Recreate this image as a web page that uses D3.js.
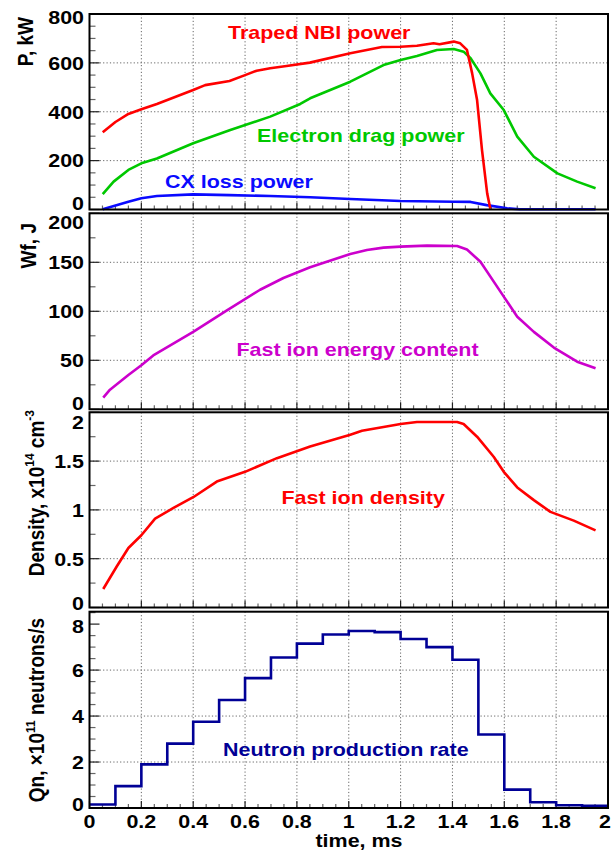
<!DOCTYPE html>
<html><head><meta charset="utf-8">
<script src="https://cdn.jsdelivr.net/npm/d3@7"></script>
<style>body{margin:0;background:#fff}svg{display:block}</style>
</head><body><div id="chart"></div>
<script>
// ---------- DATA ----------
const xTicks = [0, 0.2, 0.4, 0.6, 0.8, 1, 1.2, 1.4, 1.6, 1.8, 2];
const xTickLabels = ["0","0.2","0.4","0.6","0.8","1","1.2","1.4","1.6","1.8","2"];

const nbiT = [0.051,0.10,0.15,0.20,0.26,0.40,0.446,0.54,0.60,0.645,0.697,0.76,0.85,1.006,1.128,1.20,1.263,1.327,1.35,1.405,1.43,1.456,1.476,1.495,1.514,1.534,1.546];
const nbiP = [316,358,391,410,432,489,509,526,550,568,578,587,601,639,665,666,670,680,676,687,680,653,557,448,243,66,3];

const dragT = [0.051,0.093,0.15,0.20,0.26,0.40,0.543,0.697,0.813,0.851,1.006,1.134,1.20,1.263,1.34,1.405,1.443,1.47,1.508,1.546,1.598,1.65,1.714,1.805,1.881,1.952];
const dragP = [63,114,162,189,209,271,325,380,432,455,523,591,612,628,653,657,646,619,557,475,407,298,216,148,114,87];

const cxT = [0.051,0.15,0.20,0.26,0.40,0.54,0.697,0.851,1.006,1.20,1.405,1.47,1.532,1.611,1.66,1.952];
const cxP = [1,32,46,55,62,59,55,50,43,35,32,31,18,5,1,1];

const wfT = [0.053,0.079,0.15,0.20,0.246,0.40,0.53,0.658,0.748,0.851,1.006,1.07,1.134,1.20,1.302,1.418,1.456,1.508,1.598,1.65,1.714,1.791,1.881,1.952];
const wfJ = [12,20,35,45,55,79,101,122,134,145,158.5,162.6,165,166,167,166.6,163,150.6,115,94.5,79,63,48.6,41.8];

const denT = [0.053,0.105,0.15,0.20,0.253,0.324,0.40,0.491,0.60,0.723,0.851,1.006,1.051,1.134,1.20,1.263,1.418,1.443,1.495,1.559,1.598,1.65,1.714,1.778,1.868,1.952];
const denN = [0.19,0.42,0.61,0.74,0.91,1.02,1.13,1.29,1.39,1.53,1.65,1.77,1.81,1.85,1.88,1.90,1.90,1.88,1.75,1.545,1.39,1.23,1.10,0.98,0.89,0.79];

const qnBinEdges = [0,0.1,0.2,0.3,0.4,0.5,0.6,0.7,0.8,0.9,1.0,1.1,1.2,1.3,1.4,1.5,1.6,1.7,1.8,1.9,2.0];
const qnValues = [0.15,0.95,1.9,2.8,3.75,4.7,5.65,6.55,7.15,7.55,7.7,7.65,7.35,7.0,6.45,3.2,0.8,0.25,0.12,0.1];

// ---------- LAYOUT ----------
const W = 613, H = 855;
const X0 = 89.5, X1 = 608;
const SX = 1.13; // horizontal text stretch
const FONT = "'Liberation Sans', Arial, sans-serif";

const svg = d3.select("#chart").append("svg").attr("width", W).attr("height", H);
const x = d3.scaleLinear().domain([0, 2]).range([X0, X1]);

function txt(g, s, px, py, opts = {}) {
  const t = g.append("text")
    .attr("transform", `translate(${px},${py}) scale(${SX},1)` + (opts.rotate ? ` rotate(${opts.rotate})` : ""))
    .attr("font-family", FONT).attr("font-weight", "bold")
    .attr("font-size", opts.size || 19)
    .attr("fill", opts.color || "#000")
    .attr("text-anchor", opts.anchor || "start");
  if (opts.dy) t.attr("dy", opts.dy);
  if (Array.isArray(s)) {
    s.forEach(part => {
      const ts = t.append("tspan").text(part.t);
      if (part.sup) ts.attr("font-size", 12).attr("dy", part.dy);
      else if (part.dy) ts.attr("dy", part.dy);
    });
  } else t.text(s);
  return t;
}

const panels = [
  { top: 14, bot: 209.5, dom: [0, 800], major: [0,200,400,600,800], minorStep: 50,
    labels: ["0","200","400","600","800"], labShift: [-6.5, 0, 0, 0, 2.7],
    title: "P, kW", titleX: 33, titleEnd: 17 },
  { top: 213.3, bot: 409.3, dom: [0, 200], major: [0,50,100,150,200], minorStep: 25,
    labels: ["0","50","100","150","200"], labShift: [-6, 0, 0, 0, 8.4],
    title: "Wf, J", titleX: 36, titleEnd: 223 },
  { top: 412.3, bot: 607.5, dom: [0, 2], major: [0,0.5,1,1.5,2], minorStep: 0.25,
    labels: ["0","0.5","1","1.5","2"], labShift: [-4.5, 0, 0, 0, 9.8],
    title: [{t:"Density, x10"},{t:"14",sup:true,dy:-8},{t:" cm",dy:8},{t:"-3",sup:true,dy:-8}], titleX: 43.5, titleEnd: 410 },
  { top: 611.7, bot: 808, dom: [0, 8.54], major: [0,2,4,6,8], minorStep: 0.5,
    labels: ["0","2","4","6","8"], labShift: [-4, 0, 0, 0, 1.7],
    title: [{t:"Qn,  \u00d710"},{t:"11",sup:true,dy:-8},{t:" neutrons/s",dy:8}], titleX: 44, titleEnd: 618 }
];

panels.forEach(p => {
  p.y = d3.scaleLinear().domain(p.dom).range([p.bot, p.top]);
  const g = svg.append("g");
  p.g = g;
  // grid
  const grid = g.append("g").attr("stroke", "#666").attr("stroke-width", 1).attr("stroke-dasharray", "1.2,2.2");
  xTicks.slice(1, -1).forEach(v => grid.append("line").attr("x1", x(v)).attr("x2", x(v)).attr("y1", p.top).attr("y2", p.bot));
  p.major.slice(1, -1).forEach(v => grid.append("line").attr("x1", X0).attr("x2", X1).attr("y1", p.y(v)).attr("y2", p.y(v)));
  // x ticks (bottom)
  const tk = g.append("g");
  d3.range(0, 2.0001, 0.05).forEach(v => {
    const isMajor = Math.abs(v / 0.2 - Math.round(v / 0.2)) < 1e-6;
    tk.append("line").attr("x1", x(v)).attr("x2", x(v))
      .attr("y1", p.bot).attr("y2", p.bot - (isMajor ? 7 : 4))
      .attr("stroke", isMajor ? "#222" : "#666").attr("stroke-width", 1.2);
  });
  // y ticks (left)
  const n = Math.round((p.dom[1] - p.dom[0]) / p.minorStep);
  for (let i = 0; i <= n; i++) {
    const v = p.dom[0] + i * p.minorStep;
    if (v > p.dom[1]) break;
    const isMajor = p.major.some(m => Math.abs(m - v) < 1e-6);
    tk.append("line").attr("x1", X0).attr("x2", X0 + (isMajor ? 10 : 6))
      .attr("y1", p.y(v)).attr("y2", p.y(v))
      .attr("stroke", isMajor ? "#222" : "#666").attr("stroke-width", 1.2);
  }
  // y tick labels
  p.major.forEach((v, i) => {
    txt(g, p.labels[i], 84, p.y(v) + p.labShift[i], { anchor: "end", dy: "0.36em" });
  });
  // y title (rotated)
  txt(g, p.title, p.titleX, p.titleEnd, { anchor: "end", rotate: -90, size: 19 });
});

// ---------- SERIES ----------
function series(p, ts, vs, color) {
  const pts = ts.map((t, i) => [t, vs[i]]);
  p.g.append("path").datum(pts)
    .attr("d", d3.line().x(d => x(d[0])).y(d => p.y(d[1])))
    .attr("fill", "none").attr("stroke", color).attr("stroke-width", 2.6)
    .attr("stroke-linejoin", "round");
}
series(panels[0], cxT, cxP, "#0a0aff");
series(panels[0], dragT, dragP, "#00c800");
series(panels[0], nbiT, nbiP, "#ff0000");
series(panels[1], wfT, wfJ, "#cc00cc");
series(panels[2], denT, denN, "#ff0000");

// histogram
{
  const p = panels[3];
  const pts = [];
  qnValues.forEach((v, i) => { pts.push([qnBinEdges[i], v]); pts.push([qnBinEdges[i + 1], v]); });
  p.g.append("path").datum(pts)
    .attr("d", d3.line().x(d => x(d[0])).y(d => p.y(d[1])))
    .attr("fill", "none").attr("stroke", "#000096").attr("stroke-width", 2.6);
}

// series labels
txt(panels[0].g, "Traped NBI power", 228, 39, { color: "#ff0000" });
txt(panels[0].g, "Electron drag power", 257, 141.5, { color: "#00c800" });
txt(panels[0].g, "CX loss power", 165, 188, { color: "#0a0aff" });
txt(panels[1].g, "Fast ion energy content", 236.5, 355.5, { color: "#cc00cc" });
txt(panels[2].g, "Fast ion density", 281.5, 504, { color: "#ff0000" });
txt(panels[3].g, "Neutron production rate", 223, 756, { color: "#000096" });

// frames
panels.forEach(p => {
  p.g.append("rect").attr("x", X0).attr("y", p.top).attr("width", X1 - X0).attr("height", p.bot - p.top)
    .attr("fill", "none").attr("stroke", "#000").attr("stroke-width", 2);
});

// x tick labels & title
xTicks.forEach((v, i) => txt(svg, xTickLabels[i], Math.min(x(v), 605), 828, { anchor: "middle" }));
txt(svg, "time, ms", 359, 847, { anchor: "middle" });
</script></body></html>
